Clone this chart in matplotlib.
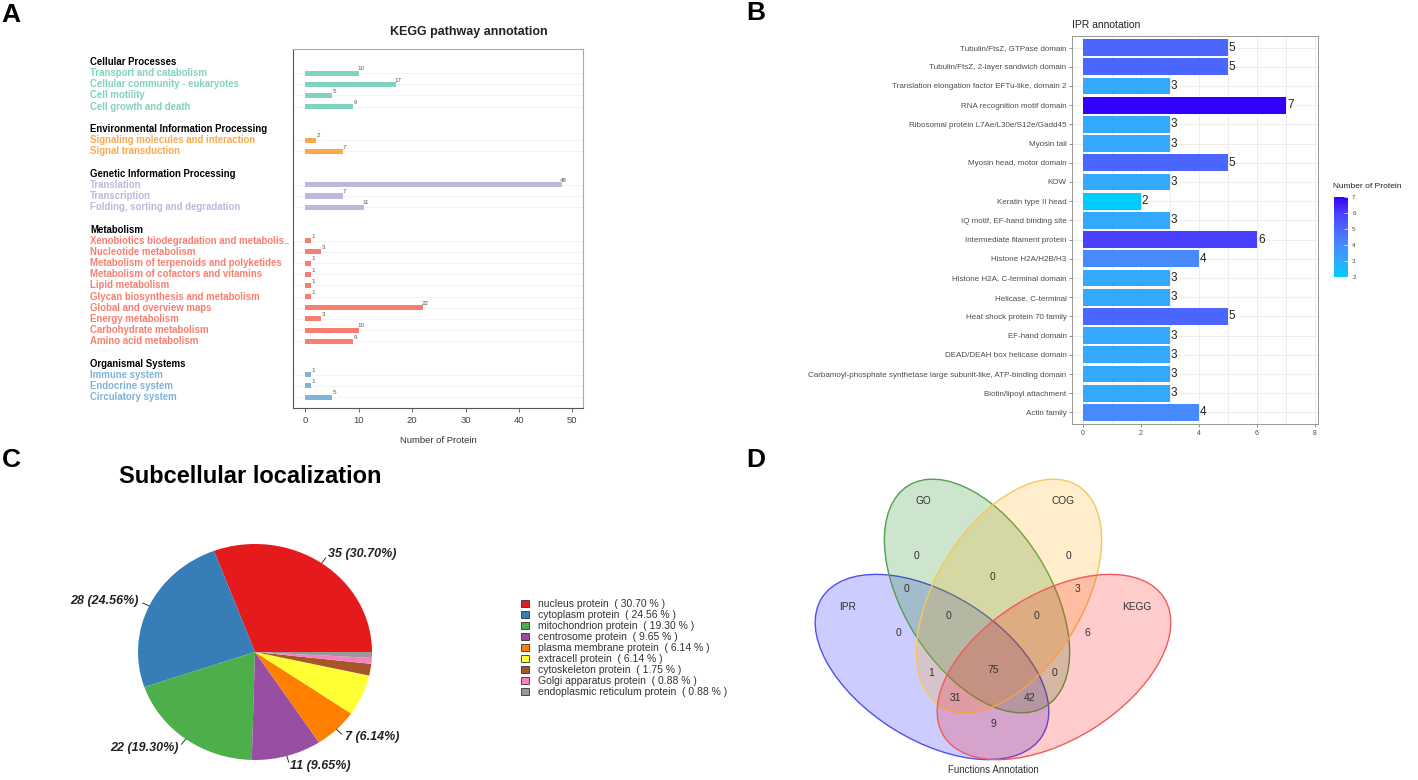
import numpy as np
import matplotlib.pyplot as plt
from matplotlib import transforms
from matplotlib.patches import Ellipse, Patch
from matplotlib.colors import LinearSegmentedColormap, Normalize
import matplotlib.cm as cm

plt.rcParams['font.family'] = ['Liberation Sans', 'DejaVu Sans']

W, H = 1418, 780

# ---------------- data ----------------
# A: KEGG pathway annotation
kegg_groups = ['Cellular Processes', 'Environmental Information Processing',
               'Genetic Information Processing', 'Metabolism', 'Organismal Systems']
kegg_terms = [
    ['Transport and catabolism', 'Cellular community - eukaryotes', 'Cell motility',
     'Cell growth and death'],
    ['Signaling molecules and interaction', 'Signal transduction'],
    ['Translation', 'Transcription', 'Folding, sorting and degradation'],
    ['Xenobiotics biodegradation and metabolis..', 'Nucleotide metabolism',
     'Metabolism of terpenoids and polyketides', 'Metabolism of cofactors and vitamins',
     'Lipid metabolism', 'Glycan biosynthesis and metabolism', 'Global and overview maps',
     'Energy metabolism', 'Carbohydrate metabolism', 'Amino acid metabolism'],
    ['Immune system', 'Endocrine system', 'Circulatory system'],
]
kegg_counts = [
    [10, 17, 5, 9],
    [2, 7],
    [48, 7, 11],
    [1, 3, 1, 1, 1, 1, 22, 3, 10, 9],
    [1, 1, 5],
]
kegg_colors = ['#7ED3C1', '#F9A94B', '#BDB8DC', '#FA7E70', '#7FB3D8']

# B: IPR annotation (top to bottom)
ipr_terms = ['Tubulin/FtsZ, GTPase domain', 'Tubulin/FtsZ, 2-layer sandwich domain',
             'Translation elongation factor EFTu-like, domain 2', 'RNA recognition motif domain',
             'Ribosomal protein L7Ae/L30e/S12e/Gadd45', 'Myosin tail',
             'Myosin head, motor domain', 'KOW', 'Keratin type II head',
             'IQ motif, EF-hand binding site', 'Intermediate filament protein',
             'Histone H2A/H2B/H3', 'Histone H2A, C-terminal domain', 'Helicase, C-terminal',
             'Heat shock protein 70 family', 'EF-hand domain', 'DEAD/DEAH box helicase domain',
             'Carbamoyl-phosphate synthetase large subunit-like, ATP-binding domain',
             'Biotin/lipoyl attachment', 'Actin family']
ipr_counts = [5, 5, 3, 7, 3, 3, 5, 3, 2, 3, 6, 4, 3, 3, 5, 3, 3, 3, 3, 4]

# C: subcellular localization
loc_names = ['nucleus protein', 'cytoplasm protein', 'mitochondrion protein',
             'centrosome protein', 'plasma membrane protein', 'extracell protein',
             'cytoskeleton protein', 'Golgi apparatus protein', 'endoplasmic reticulum protein']
loc_counts = [35, 28, 22, 11, 7, 7, 2, 1, 1]
loc_colors = ['#E41A1C', '#377EB8', '#4DAF4A', '#984EA3', '#FF7F00', '#FFFF33',
              '#A65628', '#F781BF', '#999999']
loc_labelled = [True, True, True, True, True, False, False, False, False]

# D: Venn of function annotations
venn_sets = ['IPR', 'GO', 'COG', 'KEGG']
venn_regions = ['GO', 'COG', 'GO&COG', 'IPR&GO', 'COG&KEGG', 'IPR', 'KEGG',
                'IPR&GO&COG', 'GO&COG&KEGG', 'IPR&COG', 'ALL', 'GO&KEGG',
                'IPR&COG&KEGG', 'IPR&GO&KEGG', 'IPR&KEGG']
venn_counts = [0, 0, 0, 0, 3, 0, 6, 0, 0, 1, 75, 0, 31, 42, 9]

fig = plt.figure(figsize=(W / 100, H / 100), dpi=100)


def px_axes(l, t, r, b):
    return fig.add_axes([l / W, 1 - b / H, (r - l) / W, (b - t) / H])


def ftext(x, y, s, **kw):
    fig.text(x / W, 1 - y / H, s, **kw)


# ---------------- A ----------------
axA = px_axes(293, 49, 583, 408)
lab_tr = transforms.blended_transform_factory(axA.transAxes, axA.transData)
row = 0
bar_rows = []
for g, terms, vals, col in zip(kegg_groups, kegg_terms, kegg_counts, kegg_colors):
    axA.text(-0.70, row, g, transform=lab_tr, fontsize=6.9, fontweight='bold',
             va='center', ha='left', color='black', clip_on=False)
    row += 1
    for t, v in zip(terms, vals):
        axA.barh(row, v, height=0.45, color=col, zorder=2)
        axA.text(-0.70, row, t, transform=lab_tr, fontsize=6.9, fontweight='bold',
                 va='center', ha='left', color=col, clip_on=False)
        axA.text(v + 0.4, row - 0.15, str(v), fontsize=4.5, color='#555555',
                 ha='center', va='bottom', zorder=3)
        bar_rows.append(row)
        row += 1
    row += 1
axA.hlines(bar_rows, -2.3, 52, color='#f2f2f2', lw=0.6, zorder=0)
axA.set_xlim(-2.3, 52)
axA.set_ylim(30.98, -1.16)
axA.set_yticks([])
axA.set_xticks([0, 10, 20, 30, 40, 50])
axA.tick_params(axis='x', labelsize=6.8, labelcolor='#444444', color='#555555',
                length=3, width=0.6, pad=3)
for side in ['top', 'right']:
    axA.spines[side].set_color('#aaaaaa')
for side in ['left', 'bottom']:
    axA.spines[side].set_color('#555555')
for sp in axA.spines.values():
    sp.set_linewidth(0.8)
axA.set_xlabel('Number of Protein', fontsize=6.8, color='#333333', labelpad=8)
ftext(469, 32, 'KEGG pathway annotation', ha='center', va='center',
      fontsize=9, fontweight='bold', color='#222222')

# ---------------- B ----------------
ipr_cmap = LinearSegmentedColormap.from_list(
    'ipr', [(0.0, '#00CCFF'), (0.2, '#33A8FF'), (0.4, '#478AFF'),
            (0.6, '#4A66FF'), (0.8, '#4A40FF'), (1.0, '#3300FF')])
ipr_norm = Normalize(2, 7)
axB = px_axes(1072, 36, 1318, 424)
yy = np.arange(len(ipr_terms))
axB.barh(yy, ipr_counts, height=0.87, color=ipr_cmap(ipr_norm(ipr_counts)), zorder=2)
for y, v in zip(yy, ipr_counts):
    axB.text(v + 0.03, y, str(v), va='center', ha='left', fontsize=8.5,
             color='#222222', zorder=3)
axB.set_xlim(-0.37, 8.1)
axB.set_ylim(19.6, -0.6)
axB.set_yticks(yy)
axB.set_yticklabels(ipr_terms)
axB.set_xticks([0, 2, 4, 6, 8])
axB.set_xticks([1, 3, 5, 7], minor=True)
axB.tick_params(axis='y', labelsize=5.8, labelcolor='#4d4d4d', color='#666666',
                length=2.5, width=0.5, pad=1.5)
axB.tick_params(axis='x', which='major', labelsize=5, labelcolor='#4d4d4d',
                color='#666666', length=2.5, width=0.5, pad=2)
axB.tick_params(axis='x', which='minor', length=0)
axB.grid(True, which='both', color='#ebebeb', lw=0.6, zorder=0)
axB.set_axisbelow(True)
for sp in axB.spines.values():
    sp.set_color('#888888')
    sp.set_linewidth(0.6)
ftext(1072, 25, 'IPR annotation', ha='left', va='center', fontsize=7.5, color='#222222')

cax = px_axes(1334, 197, 1348, 277)
cb = fig.colorbar(cm.ScalarMappable(norm=ipr_norm, cmap=ipr_cmap), cax=cax)
cb.outline.set_visible(False)
cb.set_ticks([2, 3, 4, 5, 6, 7])
cax.tick_params(labelsize=4.5, labelcolor='#444444', color='white', length=3,
                width=0.5, direction='in', pad=3)
ftext(1333, 187, 'Number of Protein', ha='left', va='center', fontsize=6, color='#222222')

# ---------------- C ----------------
cx, cy, rx, ry = 255, 652, 117, 108
axC = px_axes(cx - rx * 1.1, cy - ry * 1.1, cx + rx * 1.1, cy + ry * 1.1)
wedges, _ = axC.pie(loc_counts, colors=loc_colors, startangle=0, counterclock=True,
                    wedgeprops=dict(linewidth=0))
axC.set_aspect('auto')
axC.set_xlim(-1.1, 1.1)
axC.set_ylim(-1.1, 1.1)
total = sum(loc_counts)
cum = 0
for n, c, show in zip(loc_names, loc_counts, loc_labelled):
    mid = np.deg2rad((cum + c / 2) / total * 360)
    cum += c
    if not show:
        continue
    ca, sa = np.cos(mid), np.sin(mid)
    axC.plot([1.0 * ca, 1.06 * ca], [1.0 * sa, 1.06 * sa], color='#333333', lw=0.7,
             clip_on=False)
    axC.text(1.1 * ca, 1.1 * sa, '%d (%.2f%%)' % (c, c / total * 100),
             ha='left' if ca > 0 else 'right', va='center', fontsize=9,
             fontweight='bold', fontstyle='italic', color='#222222', clip_on=False)
ftext(250, 483, 'Subcellular localization', ha='center', va='baseline', fontsize=17,
      fontweight='bold', color='black')

handles = [Patch(facecolor=c, edgecolor='#333333', linewidth=0.6) for c in loc_colors]
labels = ['%s  ( %.2f %% )' % (n, c / total * 100) for n, c in zip(loc_names, loc_counts)]
fig.legend(handles, labels, loc='upper left', bbox_to_anchor=(521 / W, 1 - 599 / H),
           frameon=False, fontsize=7.5, handlelength=0.8, handleheight=0.65,
           handletextpad=0.8, labelspacing=0.1, borderpad=0, borderaxespad=0,
           labelcolor='#333333')

# ---------------- D ----------------
axD = px_axes(800, 470, 1200, 780)
axD.set_xlim(800, 1200)
axD.set_ylim(780, 470)
axD.axis('off')
ell_geom = {'IPR': ((932, 667), 32), 'GO': ((977, 596), 58),
            'COG': ((1009, 596), -58), 'KEGG': ((1054, 667), -32)}
ell_fill = {'IPR': '#0000FF', 'GO': '#008000', 'COG': '#FFA500', 'KEGG': '#FF0000'}
ell_edge = {'IPR': '#5050F0', 'GO': '#50A050', 'COG': '#F5C85A', 'KEGG': '#F05A5A'}
for s in venn_sets:
    (ex, ey), ang = ell_geom[s]
    axD.add_patch(Ellipse((ex, ey), 260, 146, angle=ang, facecolor=ell_fill[s],
                          alpha=0.2, edgecolor='none'))
    axD.add_patch(Ellipse((ex, ey), 260, 146, angle=ang, facecolor='none',
                          edgecolor=ell_edge[s], lw=1.0))
set_pos = {'IPR': (848, 607), 'GO': (923, 501), 'COG': (1063, 501), 'KEGG': (1137, 607)}
for s in venn_sets:
    axD.text(*set_pos[s], s, ha='center', va='center', fontsize=7.3, color='#333333')
region_pos = {'GO': (917, 556), 'COG': (1068, 556), 'GO&COG': (993, 577),
              'IPR&GO': (907, 589), 'COG&KEGG': (1078, 589), 'IPR': (899, 633),
              'KEGG': (1087, 633), 'IPR&GO&COG': (949, 616), 'GO&COG&KEGG': (1037, 616),
              'IPR&COG': (931, 673), 'ALL': (993, 670), 'GO&KEGG': (1055, 673),
              'IPR&COG&KEGG': (955, 698), 'IPR&GO&KEGG': (1030, 698), 'IPR&KEGG': (993, 724)}
for r, v in zip(venn_regions, venn_counts):
    axD.text(*region_pos[r], str(v), ha='center', va='center', fontsize=7.5,
             color='#333333')
ftext(993, 765, 'Functions Annotation', ha='center', va='top', fontsize=7, color='#333333')

# panel letters
for letter, (x, y) in zip('ABCD', [(11, 15), (756, 13), (11, 460), (756, 460)]):
    ftext(x, y, letter, ha='center', va='center', fontsize=19, fontweight='bold')

fig.savefig('out.png', dpi=100)
